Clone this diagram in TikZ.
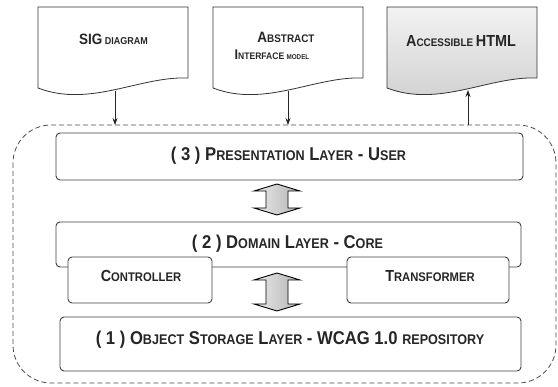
\documentclass[tikz,border=0pt]{standalone}
\usepackage{fontspec}
\setmainfont{Liberation Sans}[FakeStretch=0.9]
\usetikzlibrary{arrows.meta}

% font sizes for the faked small capitals
\newcommand\capA{\fontsize{18.5}{20}\selectfont\bfseries}
\newcommand\smA[1]{{\fontsize{14}{16}\selectfont #1}}
\newcommand\capB{\fontsize{16}{18}\selectfont\bfseries}
\newcommand\smB[1]{{\fontsize{12.5}{14}\selectfont #1}}
\newcommand\capD{\fontsize{15}{17}\selectfont\bfseries}
\newcommand\smD[1]{{\fontsize{11}{13}\selectfont #1}}
\newcommand\tnD[1]{{\fontsize{7}{9}\selectfont #1}}

\tikzset{
  docbox/.style={draw=black!80, line width=0.8pt, fill=white},
  layerbox/.style={draw=black!75, line width=0.9pt, rounded corners=4pt, fill=white, inner sep=0pt},
  boundary/.style={draw=black!70, line width=0.8pt, dash pattern=on 5pt off 3pt, rounded corners=38pt},
  flow/.style={-{Stealth[length=7pt,width=5pt]}, line width=0.8pt, draw=black!85},
  dblarrow/.style={draw=black, line width=0.9pt, left color=gray!15, right color=gray!60},
  txt/.style={inner sep=0pt, anchor=base, text=black!85}
}

% document shape: [extra options] left x, right x
\newcommand\docshape[3][]{%
  \draw[docbox,#1] (#2,7) -- (#3,7) -- (#3,78)
     .. controls (#3-48,76) and (#2+52,108) .. (#2,88) -- cycle;
}
% vertical double block arrow: centre x, top y, bottom y
\newcommand\updown[3]{%
  \draw[dblarrow] (#1,#2) -- (#1+23,#2+7) -- (#1+11,#2+7) -- (#1+11,#3-7)
     -- (#1+23,#3-7) -- (#1,#3) -- (#1-23,#3-7) -- (#1-11,#3-7)
     -- (#1-11,#2+7) -- (#1-23,#2+7) -- cycle;
}

\begin{document}
\begin{tikzpicture}[x=1pt,y=-1pt]
\useasboundingbox (0,0) rectangle (558,387);

% input / output documents
\docshape{38}{188}
\docshape{213}{363}
\docshape[top color=gray!10, bottom color=gray!38]{387}{537}

\node[txt] (sig) at (113.5,45) {\capD SIG\,\tnD{\fontsize{10}{11}\selectfont DIAGRAM}};
\node[txt] (abs) at (286,43) {\capD A\smD{BSTRACT}};
\node[txt] (aim) at (272,60) {\fontsize{14}{16}\selectfont\bfseries I{\fontsize{9.5}{11}\selectfont NTERFACE}\,\tnD{MODEL}};
\node[txt] (html) at (461,47) {\capB A\smD{CCESSIBLE}\,HTML};

\coordinate (sigout) at (115,91);
\coordinate (aimout) at (288,91);
\coordinate (htmlin) at (468,90);

% system boundary
\draw[boundary] (13,125) rectangle (556,383);
\coordinate (sigin) at (115,125);
\coordinate (aimin) at (288,125);
\coordinate (htmlout) at (468,125);

\draw[flow] (sigout) -- (sigin);
\draw[flow] (aimout) -- (aimin);
\draw[flow] (htmlout) -- (htmlin);

% layers
\node[layerbox, minimum width=467pt, minimum height=47pt] (pres) at (289.5,156.5) {};
\node[txt] (prestxt) at (288.5,161) {\capA ( 3 ) P\smA{RESENTATION} L\smA{AYER} - U\smA{SER}};

\node[layerbox, minimum width=465pt, minimum height=45pt] (dom) at (288.5,244.5) {};
\node[txt] (domtxt) at (287.5,249) {\capA ( 2 ) D\smA{OMAIN} L\smA{AYER} - C\smA{ORE}};

\node[layerbox, minimum width=144pt, minimum height=46pt] (ctrl) at (140,280) {};
\node[txt] (ctrltxt) at (141,282) {\capB C\smB{ONTROLLER}};
\node[layerbox, minimum width=162pt, minimum height=46pt] (trans) at (428,280) {};
\node[txt] (transtxt) at (430,282) {\capB T\smB{RANSFORMER}};

\node[layerbox, minimum width=461pt, minimum height=54pt] (store) at (290.5,344) {};
\node[txt] (storetxt) at (290,345) {\capA ( 1 ) O\smA{BJECT} S\smA{TORAGE} L\smA{AYER} - WCAG 1.0 \smA{REPOSITORY}};

% interaction between layers
\updown{277}{184}{215}
\updown{277}{273}{311}
\end{tikzpicture}
\end{document}
